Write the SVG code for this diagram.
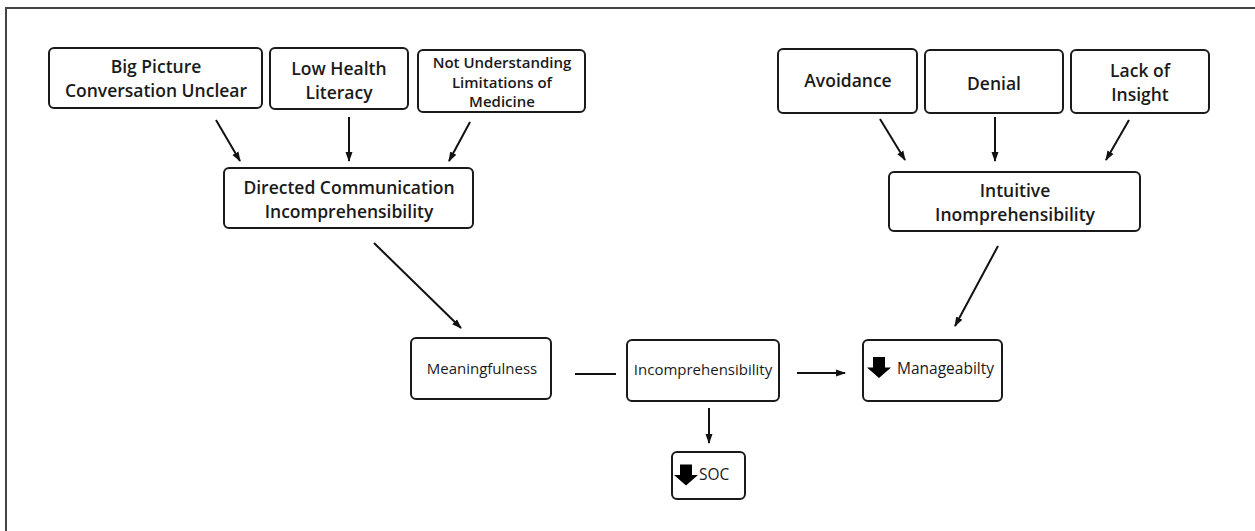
<svg xmlns="http://www.w3.org/2000/svg" width="1255" height="531" viewBox="0 0 1255 531">
  <style>
    .box { fill: #fff; stroke: #1a1a1a; stroke-width: 2; }
    .t { font-family: "Open Sans", "Liberation Sans", sans-serif; fill: #1a1a1a; text-anchor: middle; }
    .b { font-weight: 600; font-size: 17.5px; }
    .s { font-weight: 600; font-size: 15px; }
    .r { font-weight: 400; font-size: 15px; }
    .edge { stroke: #111; stroke-width: 2; fill: none; }
    .frame { stroke: #444; stroke-width: 2; fill: none; }
  </style>
  <defs>
    <marker id="ah" viewBox="0 0 10 10" refX="9" refY="5" markerWidth="5" markerHeight="5" orient="auto" markerUnits="strokeWidth">
      <path d="M0,1.5 L10,5 L0,8.5 Z" fill="#111"/>
    </marker>
    <!-- bold "decrease" arrow icon, centred on its origin -->
    <path id="down" d="M-6,-10.5 H6 V0 H12 L0,10.5 L-12,0 H-6 Z" fill="#000"/>
  </defs>

  <rect width="1255" height="531" fill="#fff"/>
  <!-- outer frame (top and left edges) -->
  <path class="frame" d="M6,531 V8 H1255"/>

  <g id="connectors">
    <line class="edge" x1="216" y1="120" x2="240" y2="161" marker-end="url(#ah)"/>
    <line class="edge" x1="349" y1="117" x2="349" y2="161" marker-end="url(#ah)"/>
    <line class="edge" x1="470" y1="122" x2="449" y2="161" marker-end="url(#ah)"/>
    <line class="edge" x1="880" y1="119" x2="905" y2="160" marker-end="url(#ah)"/>
    <line class="edge" x1="995" y1="117" x2="995" y2="161" marker-end="url(#ah)"/>
    <line class="edge" x1="1129" y1="120" x2="1106" y2="160" marker-end="url(#ah)"/>
    <line class="edge" x1="374" y1="243" x2="461" y2="328" marker-end="url(#ah)"/>
    <line class="edge" x1="998" y1="246" x2="955" y2="326" marker-end="url(#ah)"/>
    <line class="edge" x1="575" y1="374" x2="616" y2="374"/>
    <line class="edge" x1="797" y1="373" x2="845" y2="373" marker-end="url(#ah)"/>
    <line class="edge" x1="709" y1="408" x2="709" y2="443" marker-end="url(#ah)"/>
  </g>

  <g id="big-picture">
    <rect class="box" x="49" y="48" width="213" height="60" rx="5"/>
    <text class="t b" x="156" y="73">Big Picture</text>
    <text class="t b" x="156" y="97">Conversation Unclear</text>
  </g>
  <g id="low-health-literacy">
    <rect class="box" x="270" y="48" width="138" height="61" rx="5"/>
    <text class="t b" x="339" y="75">Low Health</text>
    <text class="t b" x="339" y="99">Literacy</text>
  </g>
  <g id="limitations-of-medicine">
    <rect class="box" x="418" y="50" width="167" height="62" rx="5"/>
    <text class="t s" x="502" y="68">Not Understanding</text>
    <text class="t s" x="502" y="87.5">Limitations of</text>
    <text class="t s" x="502" y="107">Medicine</text>
  </g>
  <g id="directed-communication">
    <rect class="box" x="224" y="168" width="249" height="60" rx="5"/>
    <text class="t b" x="349" y="194">Directed Communication</text>
    <text class="t b" x="349" y="218">Incomprehensibility</text>
  </g>

  <g id="avoidance">
    <rect class="box" x="778" y="49" width="139" height="64" rx="5"/>
    <text class="t b" x="848" y="87">Avoidance</text>
  </g>
  <g id="denial">
    <rect class="box" x="925" y="50" width="138" height="63" rx="5"/>
    <text class="t b" x="994" y="90">Denial</text>
  </g>
  <g id="lack-of-insight">
    <rect class="box" x="1071" y="50" width="138" height="63" rx="5"/>
    <text class="t b" x="1140" y="77">Lack of</text>
    <text class="t b" x="1140" y="101">Insight</text>
  </g>
  <g id="intuitive">
    <rect class="box" x="889" y="172" width="251" height="59" rx="5"/>
    <text class="t b" x="1015" y="197">Intuitive</text>
    <text class="t b" x="1015" y="221">Inomprehensibility</text>
  </g>

  <g id="meaningfulness">
    <rect class="box" x="411" y="338" width="140" height="61" rx="5"/>
    <text class="t r" x="482" y="374">Meaningfulness</text>
  </g>
  <g id="incomprehensibility">
    <rect class="box" x="627" y="340" width="152" height="61" rx="5"/>
    <text class="t r" x="703" y="375">Incomprehensibility</text>
  </g>
  <g id="manageability">
    <rect class="box" x="863" y="340" width="139" height="61" rx="5"/>
    <use href="#down" x="879" y="367.5"/>
    <text class="t r" x="897" y="374" style="text-anchor:start;font-size:15.5px">Manageabilty</text>
  </g>
  <g id="soc">
    <rect class="box" x="672" y="452" width="73" height="47" rx="5"/>
    <use href="#down" x="686" y="475"/>
    <text class="t r" x="699" y="480" style="text-anchor:start;font-size:15.5px">SOC</text>
  </g>
</svg>
